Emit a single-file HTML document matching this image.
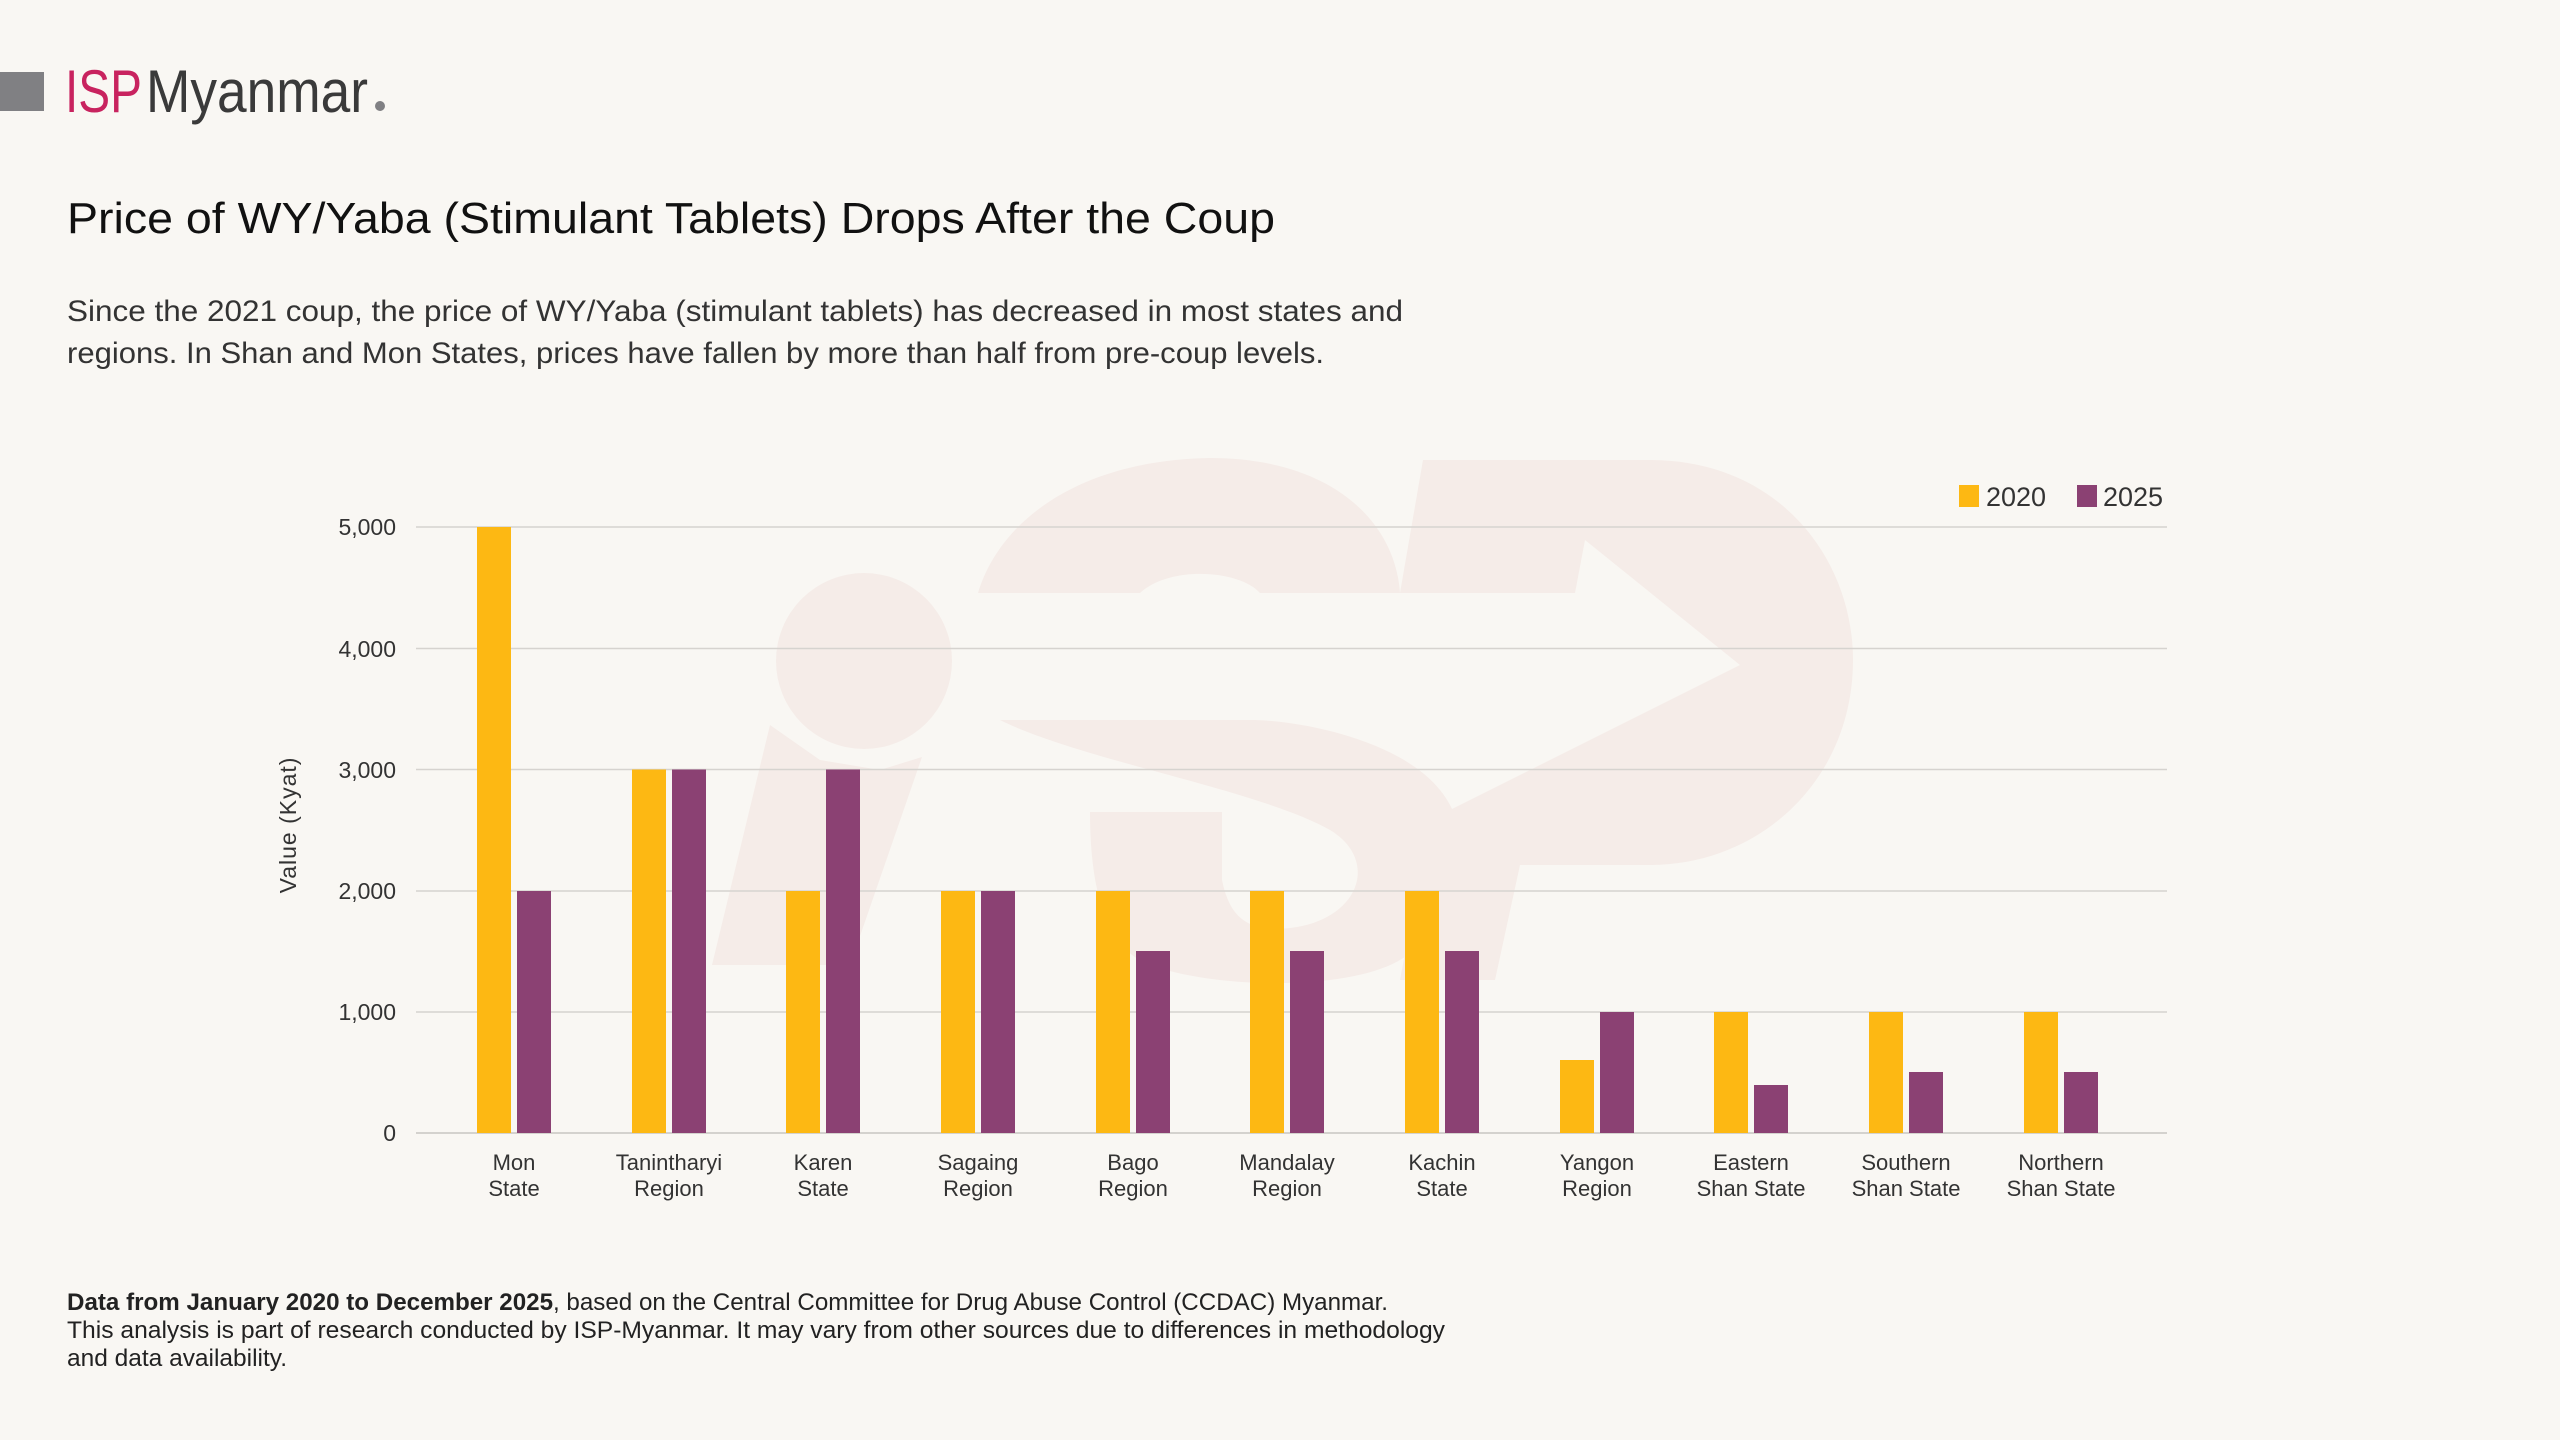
<!DOCTYPE html>
<html><head><meta charset="utf-8"><style>
html,body{margin:0;padding:0;background:#f9f7f3;}
svg{display:block;}
text{font-family:"Liberation Sans",sans-serif;}
</style></head><body>
<svg width="2560" height="1440" viewBox="0 0 2560 1440" xmlns="http://www.w3.org/2000/svg">
<rect width="2560" height="1440" fill="#f9f7f3"/>
<!-- watermark -->
<g fill="#f5ece8">
<circle cx="864" cy="661" r="88"/>
<polygon points="770,725 712,965 850,965 922,757 880,770 820,760"/>
<path d="M978,593 C1000,520 1080,460 1210,458 C1330,458 1395,520 1400,593 L1260,593 C1240,570 1170,565 1140,593 Z"/>
<path d="M1000,720 C1080,760 1260,790 1330,830 C1380,860 1360,920 1290,928 C1250,932 1230,920 1222,880 L1222,812 L1090,812 C1090,900 1110,950 1150,965 C1220,990 1350,990 1400,960 C1470,920 1480,840 1440,790 C1400,740 1300,720 1250,720 Z"/>
<path d="M1423,460 L1650,460 C1780,460 1853,560 1853,660 C1853,780 1760,865 1650,865 L1520,865 L1495,980 L1400,980 L1430,820 L1740,665 L1585,540 L1575,593 L1400,593 Z"/>
</g>
<!-- logo -->
<rect x="0" y="72" width="44" height="39" fill="#808083"/>
<text x="65" y="112" font-size="60" fill="#c8235f" textLength="77" lengthAdjust="spacingAndGlyphs">ISP</text>
<text x="146" y="112" font-size="60" fill="#3a3a3a" textLength="222" lengthAdjust="spacingAndGlyphs">Myanmar</text>
<circle cx="380" cy="106" r="5" fill="#808083"/>
<!-- title -->
<text x="67" y="233" font-size="44" fill="#111" textLength="1208" lengthAdjust="spacingAndGlyphs">Price of WY/Yaba (Stimulant Tablets) Drops After the Coup</text>
<text x="67" y="321" font-size="30" fill="#333" textLength="1336" lengthAdjust="spacingAndGlyphs">Since the 2021 coup, the price of WY/Yaba (stimulant tablets) has decreased in most states and</text>
<text x="67" y="363" font-size="30" fill="#333" textLength="1257" lengthAdjust="spacingAndGlyphs">regions. In Shan and Mon States, prices have fallen by more than half from pre-coup levels.</text>
<!-- grid -->
<g stroke="#d6d3cf" stroke-width="1.5">
<line x1="416" x2="2167" y1="527" y2="527"/>
<line x1="416" x2="2167" y1="648.5" y2="648.5"/>
<line x1="416" x2="2167" y1="769.5" y2="769.5"/>
<line x1="416" x2="2167" y1="891" y2="891"/>
<line x1="416" x2="2167" y1="1012" y2="1012"/>
<line x1="416" x2="2167" y1="1133" y2="1133" stroke="#c8c5c1"/>
</g>
<g font-size="23" fill="#333" text-anchor="end">
<text x="396" y="535">5,000</text>
<text x="396" y="657">4,000</text>
<text x="396" y="778">3,000</text>
<text x="396" y="899">2,000</text>
<text x="396" y="1020">1,000</text>
<text x="396" y="1141">0</text>
</g>
<text transform="translate(296,825) rotate(-90)" text-anchor="middle" font-size="23" fill="#333" letter-spacing="1">Value (Kyat)</text>
<!-- bars -->
<g fill="#fdb813">
<rect x="477" y="527" width="34" height="606"/>
<rect x="632" y="769.5" width="34" height="363.5"/>
<rect x="786" y="891" width="34" height="242"/>
<rect x="941" y="891" width="34" height="242"/>
<rect x="1096" y="891" width="34" height="242"/>
<rect x="1250" y="891" width="34" height="242"/>
<rect x="1405" y="891" width="34" height="242"/>
<rect x="1560" y="1060" width="34" height="73"/>
<rect x="1714" y="1012" width="34" height="121"/>
<rect x="1869" y="1012" width="34" height="121"/>
<rect x="2024" y="1012" width="34" height="121"/>
</g>
<g fill="#8b4173">
<rect x="517" y="891" width="34" height="242"/>
<rect x="672" y="769.5" width="34" height="363.5"/>
<rect x="826" y="769.5" width="34" height="363.5"/>
<rect x="981" y="891" width="34" height="242"/>
<rect x="1136" y="951" width="34" height="182"/>
<rect x="1290" y="951" width="34" height="182"/>
<rect x="1445" y="951" width="34" height="182"/>
<rect x="1600" y="1012" width="34" height="121"/>
<rect x="1754" y="1085" width="34" height="48"/>
<rect x="1909" y="1072" width="34" height="61"/>
<rect x="2064" y="1072" width="34" height="61"/>
</g>
<g font-size="22" fill="#333" text-anchor="middle">
<text x="514" y="1170">Mon</text><text x="514" y="1196">State</text>
<text x="669" y="1170">Tanintharyi</text><text x="669" y="1196">Region</text>
<text x="823" y="1170">Karen</text><text x="823" y="1196">State</text>
<text x="978" y="1170">Sagaing</text><text x="978" y="1196">Region</text>
<text x="1133" y="1170">Bago</text><text x="1133" y="1196">Region</text>
<text x="1287" y="1170">Mandalay</text><text x="1287" y="1196">Region</text>
<text x="1442" y="1170">Kachin</text><text x="1442" y="1196">State</text>
<text x="1597" y="1170">Yangon</text><text x="1597" y="1196">Region</text>
<text x="1751" y="1170">Eastern</text><text x="1751" y="1196">Shan State</text>
<text x="1906" y="1170">Southern</text><text x="1906" y="1196">Shan State</text>
<text x="2061" y="1170">Northern</text><text x="2061" y="1196">Shan State</text>
</g>
<!-- legend -->
<rect x="1959" y="485" width="20" height="22" fill="#fdb813"/>
<text x="1986" y="506" font-size="27" fill="#333">2020</text>
<rect x="2077" y="485" width="20" height="22" fill="#8b4173"/>
<text x="2103" y="506" font-size="27" fill="#333">2025</text>
<!-- footer -->
<text x="67" y="1310" font-size="24" fill="#222" textLength="1321" lengthAdjust="spacingAndGlyphs"><tspan font-weight="bold">Data from January 2020 to December 2025</tspan>, based on the Central Committee for Drug Abuse Control (CCDAC) Myanmar.</text>
<text x="67" y="1338" font-size="24" fill="#222" textLength="1378" lengthAdjust="spacingAndGlyphs">This analysis is part of research conducted by ISP-Myanmar. It may vary from other sources due to differences in methodology</text>
<text x="67" y="1366" font-size="24" fill="#222" textLength="220" lengthAdjust="spacingAndGlyphs">and data availability.</text>
</svg>
</body></html>
